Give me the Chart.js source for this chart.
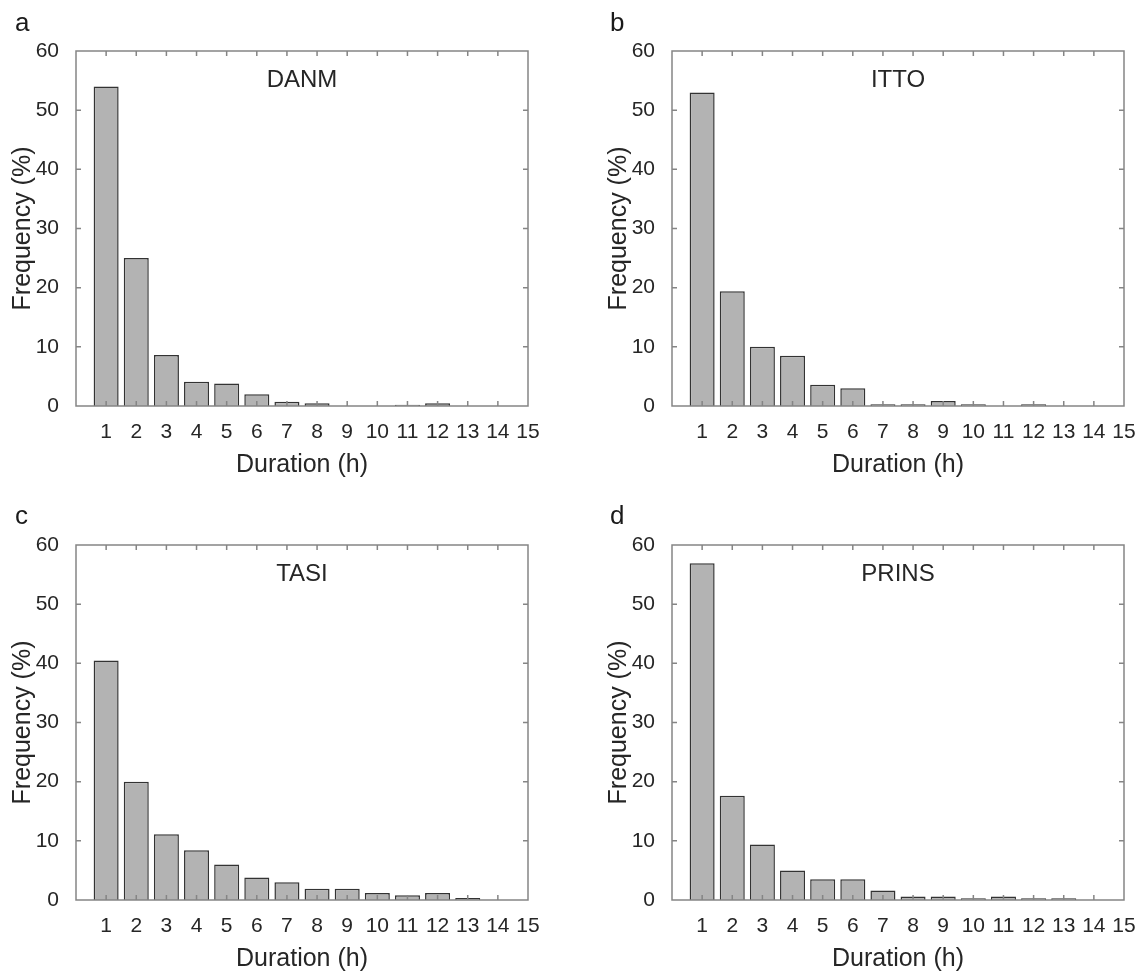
<!DOCTYPE html>
<html>
<head>
<meta charset="utf-8">
<script src="https://cdn.jsdelivr.net/npm/chart.js@4.4.0/dist/chart.umd.min.js"></script>
<style>
  body { margin: 0; background: #fff; width: 1147px; height: 972px; overflow: hidden; position: relative;
         font-family: "Liberation Sans", Arial, sans-serif; }
  .panel { position: absolute; width: 551px; height: 486px; }
  .letter { position: absolute; font-size: 26px; line-height: 26px; color: #1a1a1a; }
</style>
</head>
<body>
<div class="panel" style="left:0;top:0"><canvas id="danmChart"></canvas></div>
<div class="panel" style="left:596px;top:0"><canvas id="ittoChart"></canvas></div>
<div class="panel" style="left:0;top:494px"><canvas id="tasiChart"></canvas></div>
<div class="panel" style="left:596px;top:494px"><canvas id="prinsChart"></canvas></div>
<div class="letter" style="left:15px;top:9px">a</div>
<div class="letter" style="left:610px;top:9px">b</div>
<div class="letter" style="left:15px;top:502px">c</div>
<div class="letter" style="left:610px;top:502px">d</div>
<script>
// duration bins (h) and frequency (%) per station
const durations = [1, 2, 3, 4, 5, 6, 7, 8, 9, 10, 11, 12, 13, 14, 15];
const danm  = [54, 25, 8.6, 4.1, 3.8, 2.0, 0.7, 0.45, 0, 0, 0.2, 0.45, 0, 0, 0];
const itto  = [53, 19.4, 10.0, 8.5, 3.6, 3.0, 0.3, 0.3, 0.85, 0.3, 0, 0.3, 0, 0, 0];
const tasi  = [40.5, 20.0, 11.1, 8.4, 6.0, 3.8, 3.0, 1.9, 1.9, 1.2, 0.8, 1.2, 0.35, 0, 0];
const prins = [56.9, 17.6, 9.4, 5.0, 3.5, 3.5, 1.6, 0.6, 0.6, 0.3, 0.6, 0.3, 0.3, 0, 0];

const textColor = '#262626';
const axisColor = '#858585';

// box around the axes, inward ticks on all sides, and the station name
const frame = {
  id: 'frame',
  afterDraw(chart, args, opts) {
    const { ctx, chartArea: a, scales: { x, y } } = chart;
    ctx.save();
    ctx.strokeStyle = axisColor;
    ctx.lineWidth = 1.5;
    ctx.strokeRect(a.left, a.top, a.width, a.height);
    ctx.beginPath();
    x.ticks.forEach(t => {
      if (t.value <= x.min || t.value >= x.max) return;
      const px = x.getPixelForValue(t.value);
      ctx.moveTo(px, a.bottom); ctx.lineTo(px, a.bottom - 5);
      ctx.moveTo(px, a.top); ctx.lineTo(px, a.top + 5);
    });
    y.ticks.forEach(t => {
      if (t.value <= y.min || t.value >= y.max) return;
      const py = y.getPixelForValue(t.value);
      ctx.moveTo(a.left, py); ctx.lineTo(a.left + 5, py);
      ctx.moveTo(a.right, py); ctx.lineTo(a.right - 5, py);
    });
    ctx.stroke();
    ctx.fillStyle = textColor;
    ctx.font = '24px "Liberation Sans", Arial, sans-serif';
    ctx.textAlign = 'center';
    ctx.textBaseline = 'middle';
    ctx.fillText(opts.text, (a.left + a.right) / 2, a.top + 29);
    ctx.restore();
  }
};

function makePanel(id, title, values) {
  new Chart(document.getElementById(id), {
    type: 'bar',
    data: {
      datasets: [{
        data: durations.map((d, i) => ({ x: d, y: values[i] })),
        backgroundColor: '#b3b3b3',
        borderColor: '#333333',
        borderWidth: 1.5,
        borderSkipped: 'start',
        categoryPercentage: 1,
        barPercentage: 0.83
      }]
    },
    options: {
      responsive: true,
      maintainAspectRatio: false,
      animation: false,
      layout: { padding: { top: 51, right: 23, left: 0, bottom: 6 } },
      plugins: {
        legend: { display: false },
        tooltip: { enabled: false },
        frame: { text: title }
      },
      scales: {
        x: {
          type: 'linear', min: 0, max: 15, offset: false,
          grid: { display: false }, border: { display: false },
          ticks: {
            stepSize: 1, autoSkip: false, maxRotation: 0, padding: 6,
            color: textColor, font: { size: 21, family: '"Liberation Sans", Arial' },
            callback: v => (v === 0 ? '' : v)
          },
          title: { display: true, text: 'Duration (h)', color: textColor, padding: 0,
                   font: { size: 25, family: '"Liberation Sans", Arial' } },
          afterFit: s => { s.height = 74; }
        },
        y: {
          min: 0, max: 60,
          grid: { display: false }, border: { display: false },
          ticks: { stepSize: 10, padding: 9, color: textColor,
                   font: { size: 21, family: '"Liberation Sans", Arial' } },
          title: { display: true, text: 'Frequency (%)', color: textColor, padding: { top: 8, bottom: 0 },
                   font: { size: 25, family: '"Liberation Sans", Arial' } },
          afterFit: s => { s.width = 76; }
        }
      }
    },
    plugins: [frame]
  });
}

makePanel('danmChart', 'DANM', danm);
makePanel('ittoChart', 'ITTO', itto);
makePanel('tasiChart', 'TASI', tasi);
makePanel('prinsChart', 'PRINS', prins);
</script>
</body>
</html>
